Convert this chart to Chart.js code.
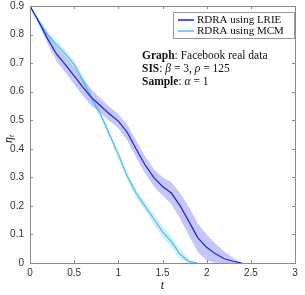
<!DOCTYPE html>
<html>
<head>
<meta charset="utf-8">
<script src="https://cdn.jsdelivr.net/npm/chart.js@4"></script>
<style>
html, body { margin: 0; padding: 0; background: #fff; }
#wrap { width: 305px; height: 295px; }
</style>
</head>
<body>
<div id="wrap"><canvas id="myChart" width="305" height="295"></canvas></div>
<script>
// values
const tLrie = [0, 0.1, 0.2, 0.3, 0.4, 0.5, 0.6, 0.7, 0.8, 0.9, 1.0, 1.1, 1.2, 1.3, 1.4, 1.5, 1.6, 1.7, 1.8, 1.9, 2.0, 2.1, 2.2, 2.3, 2.4];
const etaLrie = [0.9, 0.845, 0.785, 0.732, 0.695, 0.655, 0.615, 0.578, 0.55, 0.522, 0.497, 0.458, 0.40, 0.345, 0.30, 0.268, 0.245, 0.20, 0.145, 0.088, 0.055, 0.032, 0.015, 0.006, 0];
const spreadLrie = [0, 0.01, 0.018, 0.025, 0.028, 0.03, 0.03, 0.028, 0.025, 0.025, 0.025, 0.027, 0.03, 0.03, 0.03, 0.032, 0.038, 0.045, 0.05, 0.05, 0.045, 0.035, 0.025, 0.012, 0];

const tMcm = [0, 0.1, 0.2, 0.3, 0.4, 0.5, 0.6, 0.7, 0.8, 0.9, 1.0, 1.1, 1.2, 1.3, 1.4, 1.5, 1.6, 1.7, 1.8, 1.9];
const etaMcm = [0.9, 0.845, 0.8, 0.765, 0.732, 0.695, 0.64, 0.575, 0.52, 0.45, 0.38, 0.305, 0.245, 0.2, 0.155, 0.11, 0.075, 0.03, 0.005, 0];
const spreadMcm = [0, 0.008, 0.012, 0.014, 0.015, 0.015, 0.014, 0.013, 0.012, 0.012, 0.013, 0.014, 0.015, 0.016, 0.018, 0.02, 0.02, 0.018, 0.01, 0];

const seriesNames = ['RDRA using LRIE', 'RDRA using MCM'];
const xTicks = [0, 0.5, 1, 1.5, 2, 2.5, 3];
const yTicks = [0, 0.1, 0.2, 0.3, 0.4, 0.5, 0.6, 0.7, 0.8, 0.9];

const colLrie = '#1c1ce6';
const colMcm = '#4dbeee';
const bandLrie = 'rgba(120,120,240,0.42)';
const bandMcm = 'rgba(77,190,238,0.25)';

function pts(xs, ys) {
    return xs.map((x, i) => ({x: x, y: ys[i]}));
}
function band(xs, ys, sp, sign) {
    return xs.map((x, i) => ({x: x, y: Math.max(0, ys[i] + sign * sp[i])}));
}

// box, inward ticks, legend, notes, axis titles
const decor = {
    id: 'decor',
    afterDraw(chart) {
        const ctx = chart.ctx;
        const a = chart.chartArea;
        const xs = chart.scales.x, ys = chart.scales.y;
        ctx.save();
        ctx.strokeStyle = '#8a8a8a';
        ctx.lineWidth = 1;
        ctx.strokeRect(Math.round(a.left) + 0.5, Math.round(a.top) + 0.5, Math.round(a.right - a.left), Math.round(a.bottom - a.top));
        ctx.beginPath();
        xTicks.forEach(v => {
            const px = Math.round(xs.getPixelForValue(v)) + 0.5;
            ctx.moveTo(px, a.bottom); ctx.lineTo(px, a.bottom - 3);
            ctx.moveTo(px, a.top); ctx.lineTo(px, a.top + 3);
        });
        yTicks.forEach(v => {
            const py = Math.round(ys.getPixelForValue(v)) + 0.5;
            ctx.moveTo(a.left, py); ctx.lineTo(a.left + 3, py);
            ctx.moveTo(a.right, py); ctx.lineTo(a.right - 3, py);
        });
        ctx.stroke();

        // legend
        const lw = 121, lh = 26;
        const lx = Math.round(a.right) - 1 - lw, ly = Math.round(a.top) + 6;
        ctx.fillStyle = '#fff';
        ctx.fillRect(lx, ly, lw, lh);
        ctx.strokeStyle = '#9a9a9a';
        ctx.strokeRect(lx + 0.5, ly + 0.5, lw, lh);
        ctx.font = '11px "Liberation Serif"';
        ctx.textBaseline = 'middle';
        [colLrie, colMcm].forEach((c, i) => {
            const yy = ly + 8 + i * 11;
            ctx.strokeStyle = c;
            ctx.lineWidth = 1.5;
            ctx.beginPath();
            ctx.moveTo(lx + 5, yy); ctx.lineTo(lx + 21, yy);
            ctx.stroke();
            ctx.fillStyle = '#111';
            ctx.fillText(seriesNames[i], lx + 24, yy);
        });

        // notes
        const notes = [
            [['bold', 'Graph'], ['', ': Facebook real data']],
            [['bold', 'SIS'], ['', ': '], ['italic', 'β'], ['', ' = 3, '], ['italic', 'ρ'], ['', ' = 125']],
            [['bold', 'Sample'], ['', ': '], ['italic', 'α'], ['', ' = 1']]
        ];
        ctx.fillStyle = '#111';
        notes.forEach((row, r) => {
            let x = 142;
            const y = 56 + r * 13;
            row.forEach(p => {
                ctx.font = (p[0] ? p[0] + ' ' : '') + '11.5px "Liberation Serif"';
                ctx.fillText(p[1], x, y);
                x += ctx.measureText(p[1]).width;
            });
        });

        // axis titles
        ctx.font = 'italic 12px "Liberation Serif"';
        ctx.textAlign = 'center';
        ctx.fillText('t', (a.left + a.right) / 2, 286);
        ctx.translate(9, 138);
        ctx.rotate(-Math.PI / 2);
        ctx.textAlign = 'left';
        ctx.fillText('η', -5, 0);
        ctx.font = 'italic 8px "Liberation Serif"';
        ctx.fillText('t', 1, 3);
        ctx.restore();
    }
};

function noPad(s) {
    s.paddingTop = 0; s.paddingBottom = 0; s.paddingLeft = 0; s.paddingRight = 0;
}

window.onload = (event) => {

const data = {
    datasets: [
        {label: seriesNames[0], data: pts(tLrie, etaLrie), borderColor: colLrie, borderWidth: 1.2, pointRadius: 0, fill: false, order: 0},
        {label: seriesNames[1], data: pts(tMcm, etaMcm), borderColor: colMcm, borderWidth: 1.2, pointRadius: 0, fill: false, order: 0},
        {label: 'lrie hi', data: band(tLrie, etaLrie, spreadLrie, 1), borderWidth: 0, pointRadius: 0, backgroundColor: bandLrie, fill: '+1', order: 2},
        {label: 'lrie lo', data: band(tLrie, etaLrie, spreadLrie, -1), borderWidth: 0, pointRadius: 0, fill: false, order: 2},
        {label: 'mcm hi', data: band(tMcm, etaMcm, spreadMcm, 1), borderWidth: 0, pointRadius: 0, backgroundColor: bandMcm, fill: '+1', order: 1},
        {label: 'mcm lo', data: band(tMcm, etaMcm, spreadMcm, -1), borderWidth: 0, pointRadius: 0, fill: false, order: 1}
    ]
};

var myChart = new Chart(document.getElementById('myChart'), {
    type: 'line',
    data,
    plugins: [decor],
    options: {
        responsive: false,
        animation: false,
        layout: {padding: {top: 6, right: 10, left: 0, bottom: 0}},
        plugins: {legend: {display: false}, tooltip: {enabled: false}},
        scales: {
            x: {
                type: 'linear', min: 0, max: 3,
                afterFit: s => { s.height = 32; noPad(s); },
                afterBuildTicks: s => { s.ticks = xTicks.map(v => ({value: v})); },
                grid: {display: false, drawTicks: false, tickLength: 0}, border: {display: false},
                ticks: {padding: 4, color: '#333', font: {family: 'Liberation Sans', size: 10}, maxRotation: 0,
                    callback: v => String(v)}
            },
            y: {
                type: 'linear', min: 0, max: 0.9,
                afterFit: s => { s.width = 30; noPad(s); },
                afterBuildTicks: s => { s.ticks = yTicks.map(v => ({value: v})); },
                grid: {display: false, drawTicks: false, tickLength: 0}, border: {display: false},
                ticks: {padding: 6, color: '#333', font: {family: 'Liberation Sans', size: 10},
                    callback: v => String(v)}
            }
        }
    }
});

};
</script>
</body>
</html>
